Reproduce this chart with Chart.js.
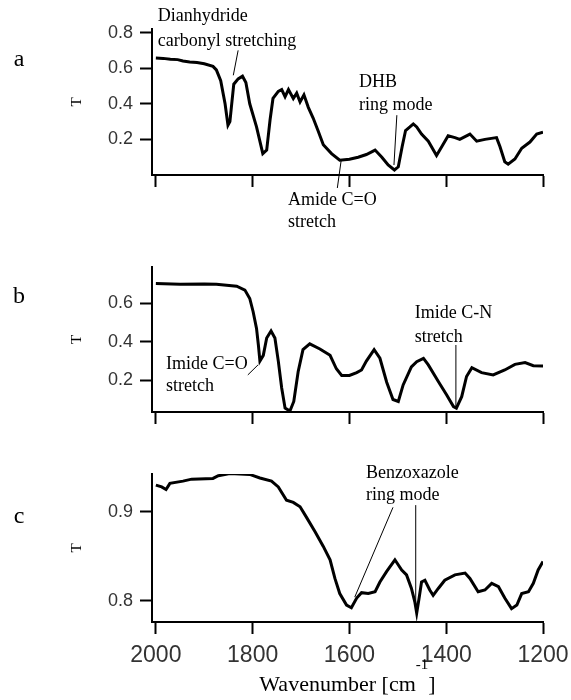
<!DOCTYPE html>
<html>
<head>
<meta charset="utf-8">
<script src="https://cdn.jsdelivr.net/npm/chart.js@4.4.1/dist/chart.umd.min.js"></script>
<style>
  html, body { margin: 0; padding: 0; background: #fff; }
  #wrap { position: relative; width: 571px; height: 700px; }
  canvas { position: absolute; left: 0; }
</style>
</head>
<body>
<div id="wrap">
  <canvas id="chartA" width="571" height="240" style="top:0"></canvas>
  <canvas id="chartB" width="571" height="210" style="top:240px"></canvas>
  <canvas id="chartC" width="571" height="250" style="top:450px"></canvas>
</div>
<script>
// shared wavenumber ticks (cm-1)
const xTicks = [2000, 1800, 1600, 1400, 1200];

// panel a
const wnA = [2000, 1985, 1970, 1955, 1944, 1930, 1915, 1900, 1882, 1875, 1866, 1857, 1851, 1847, 1844, 1839,
  1830, 1821, 1814, 1806, 1792, 1779, 1771, 1764, 1758, 1747, 1740, 1733, 1726, 1716, 1709, 1702, 1694, 1685,
  1675, 1665, 1654, 1637, 1620, 1600, 1582, 1565, 1554, 1547, 1533, 1520, 1507, 1499, 1491, 1484, 1475, 1468,
  1461, 1451, 1437, 1420, 1409, 1396, 1382, 1372, 1351, 1337, 1320, 1296, 1289, 1279, 1272, 1258, 1244, 1227,
  1213, 1200];
const tA = [0.657, 0.655, 0.650, 0.648, 0.640, 0.635, 0.632, 0.625, 0.610, 0.590, 0.530, 0.400, 0.280, 0.300,
  0.380, 0.510, 0.540, 0.555, 0.520, 0.400, 0.270, 0.120, 0.140, 0.310, 0.430, 0.470, 0.480, 0.440, 0.480,
  0.430, 0.460, 0.410, 0.450, 0.380, 0.320, 0.250, 0.170, 0.120, 0.083, 0.088, 0.100, 0.115, 0.130, 0.140,
  0.100, 0.056, 0.028, 0.046, 0.160, 0.250, 0.270, 0.287, 0.270, 0.230, 0.190, 0.110, 0.160, 0.220, 0.210,
  0.200, 0.230, 0.190, 0.200, 0.210, 0.160, 0.074, 0.061, 0.090, 0.150, 0.185, 0.230, 0.240];
const yTicksA = [0.2, 0.4, 0.6, 0.8];

// panel b
const wnB = [2000, 1950, 1900, 1875, 1833, 1816, 1806, 1799, 1792, 1788, 1785, 1778, 1771, 1762, 1754, 1747,
  1740, 1733, 1723, 1715, 1706, 1696, 1682, 1661, 1640, 1627, 1616, 1600, 1585, 1575, 1565, 1549, 1537, 1523,
  1510, 1499, 1489, 1472, 1461, 1447, 1437, 1416, 1399, 1385, 1379, 1368, 1358, 1347, 1327, 1303, 1279, 1258,
  1237, 1220, 1200];
const tB = [0.704, 0.700, 0.701, 0.700, 0.690, 0.670, 0.626, 0.557, 0.470, 0.380, 0.300, 0.330, 0.420, 0.457,
  0.420, 0.300, 0.160, 0.055, 0.040, 0.090, 0.245, 0.360, 0.390, 0.363, 0.330, 0.260, 0.225, 0.225, 0.240,
  0.254, 0.300, 0.360, 0.315, 0.190, 0.100, 0.090, 0.176, 0.270, 0.297, 0.314, 0.280, 0.193, 0.124, 0.063,
  0.055, 0.115, 0.220, 0.266, 0.240, 0.228, 0.254, 0.283, 0.292, 0.276, 0.275];
const yTicksB = [0.2, 0.4, 0.6];

// panel c
const wnC = [2000, 1988, 1979, 1971, 1944, 1926, 1882, 1871, 1847, 1806, 1785, 1761, 1747, 1730, 1716, 1702,
  1689, 1671, 1654, 1640, 1630, 1620, 1606, 1596, 1585, 1575, 1561, 1547, 1537, 1523, 1506, 1492, 1482, 1472,
  1465, 1461, 1456, 1451, 1444, 1434, 1427, 1416, 1403, 1382, 1361, 1351, 1334, 1320, 1306, 1292, 1279, 1265,
  1254, 1244, 1230, 1220, 1210, 1200];
const tC = [0.930, 0.928, 0.925, 0.932, 0.9345, 0.9367, 0.9375, 0.9405, 0.943, 0.942, 0.938, 0.9345, 0.928,
  0.913, 0.9105, 0.9056, 0.894, 0.8775, 0.861, 0.846, 0.825, 0.808, 0.795, 0.792, 0.803, 0.809, 0.808, 0.810,
  0.821, 0.833, 0.846, 0.8345, 0.829, 0.814, 0.799, 0.786, 0.803, 0.821, 0.823, 0.812, 0.806, 0.814, 0.823,
  0.829, 0.831, 0.825, 0.810, 0.812, 0.8195, 0.8157, 0.803, 0.791, 0.795, 0.808, 0.810, 0.8195, 0.8345, 0.844];
const yTicksC = [0.8, 0.9];

const SERIF = '"Liberation Serif", "Times New Roman", serif';
const SANS = '"Liberation Sans", Arial, sans-serif';

// text notes with leader lines, placed in data units
const notesPlugin = {
  id: 'notes',
  afterDraw(chart, args, opts) {
    const ctx = chart.ctx;
    const xs = chart.scales.x, ys = chart.scales.y;
    const px = v => xs.getPixelForValue(v);
    const py = v => ys.getPixelForValue(v);
    ctx.save();
    ctx.fillStyle = '#000';
    ctx.strokeStyle = '#000';
    ctx.lineWidth = 1;
    ctx.textBaseline = 'middle';
    ctx.textAlign = 'left';
    ctx.font = '18px ' + SERIF;
    (opts.items || []).forEach(n => {
      n.text.forEach((s, i) => ctx.fillText(s, px(n.x), py(n.y[i])));
      (n.leaders || []).forEach(l => {
        ctx.beginPath();
        ctx.moveTo(px(l[0]), py(l[1]));
        ctx.lineTo(px(l[2]), py(l[3]));
        ctx.stroke();
      });
    });
    if (opts.letter) {
      ctx.font = '24px ' + SERIF;
      ctx.textAlign = 'center';
      ctx.fillText(opts.letter, 19, opts.letterY);
    }
    if (opts.xTitle) {
      const cx = (chart.chartArea.left + chart.chartArea.right) / 2;
      const y = opts.xTitleY;
      ctx.font = '22px ' + SERIF;
      const main = 'Wavenumber [cm';
      const w1 = ctx.measureText(main).width;
      const w3 = ctx.measureText(']').width;
      ctx.font = '15px ' + SERIF;
      const w2 = ctx.measureText('-1').width;
      let x = cx - (w1 + w2 + w3) / 2;
      ctx.textAlign = 'left';
      ctx.font = '22px ' + SERIF;
      ctx.fillText(main, x, y);
      ctx.font = '15px ' + SERIF;
      ctx.fillText('-1', x + w1, y - 20);
      ctx.font = '22px ' + SERIF;
      ctx.fillText(']', x + w1 + w2, y);
    }
    ctx.restore();
  }
};

function makePanel(id, p) {
  return new Chart(document.getElementById(id), {
    type: 'line',
    data: {
      datasets: [{
        data: p.wn.map((w, i) => ({ x: w, y: p.t[i] })),
        borderColor: '#000',
        borderWidth: 3,
        pointRadius: 0,
        tension: 0,
        fill: false
      }]
    },
    options: {
      responsive: false,
      animation: false,
      layout: { padding: { top: p.padTop, bottom: p.padBottom, left: 0, right: 28 } },
      scales: {
        x: {
          type: 'linear',
          reverse: true,
          min: 1200,
          max: 2008,
          afterBuildTicks: s => { s.ticks = xTicks.map(v => ({ value: v })); },
          afterFit: s => { s.height = p.xHeight; s.paddingLeft = 0; s.paddingRight = 0; },
          border: { display: true, color: '#000', width: 2 },
          grid: { drawOnChartArea: false, drawTicks: true, tickLength: 12, tickColor: '#000', tickWidth: 2 },
          ticks: {
            display: p.xLabels,
            color: '#333',
            padding: 8,
            maxRotation: 0,
            font: { family: SANS, size: 23 },
            callback: v => String(v)
          }
        },
        y: {
          min: p.yMin,
          max: p.yMax,
          afterBuildTicks: s => { s.ticks = p.yTicks.map(v => ({ value: v })); },
          afterFit: s => { s.width = 152; },
          border: { display: true, color: '#000', width: 2 },
          grid: { drawOnChartArea: false, drawTicks: true, tickLength: 12, tickColor: '#000', tickWidth: 2 },
          ticks: {
            color: '#333',
            padding: 7,
            font: { family: SANS, size: 18 },
            callback: v => v.toFixed(1)
          },
          title: {
            display: true,
            text: 'T',
            color: '#000',
            font: { family: SERIF, size: 15 },
            padding: { top: 68, bottom: 0 }
          }
        }
      },
      plugins: {
        legend: { display: false },
        tooltip: { enabled: false },
        notes: p.notes
      }
    },
    plugins: [notesPlugin]
  });
}

makePanel('chartA', {
  wn: wnA, t: tA, yTicks: yTicksA, yMin: 0, yMax: 0.82,
  padTop: 29, padBottom: 240 - 175 - 12, xHeight: 12, xLabels: false,
  notes: {
    letter: 'a', letterY: 60,
    items: [
      { text: ['Dianhydride', 'carbonyl stretching'], x: 1996, y: [0.89, 0.75],
        leaders: [[1830, 0.70, 1840, 0.56]] },
      { text: ['DHB', 'ring mode'], x: 1580, y: [0.52, 0.39],
        leaders: [[1502, 0.336, 1508, 0.056]] },
      { text: ['Amide C=O', 'stretch'], x: 1727, y: [-0.14, -0.264],
        leaders: [[1617, 0.084, 1625, -0.073]] }
    ]
  }
});

makePanel('chartB', {
  wn: wnB, t: tB, yTicks: yTicksB, yMin: 0.035, yMax: 0.79,
  padTop: 27, padBottom: 210 - 172 - 12, xHeight: 12, xLabels: false,
  notes: {
    letter: 'b', letterY: 57,
    items: [
      { text: ['Imide C=O', 'stretch'], x: 1979, y: [0.285, 0.17],
        leaders: [[1810, 0.228, 1789, 0.28]] },
      { text: ['Imide C-N', 'stretch'], x: 1465, y: [0.551, 0.426],
        leaders: [[1380, 0.384, 1380, 0.06]] }
    ]
  }
});

makePanel('chartC', {
  wn: wnC, t: tC, yTicks: yTicksC, yMin: 0.776, yMax: 0.9425,
  padTop: 24, padBottom: 250 - 172 - 60, xHeight: 60, xLabels: true,
  notes: {
    letter: 'c', letterY: 67,
    xTitle: true, xTitleY: 235,
    items: [
      { text: ['Benzoxazole', 'ring mode'], x: 1566, y: [0.9435, 0.919],
        leaders: [[1510, 0.905, 1589, 0.804], [1463, 0.9075, 1463, 0.793]] }
    ]
  }
});
</script>
</body>
</html>
